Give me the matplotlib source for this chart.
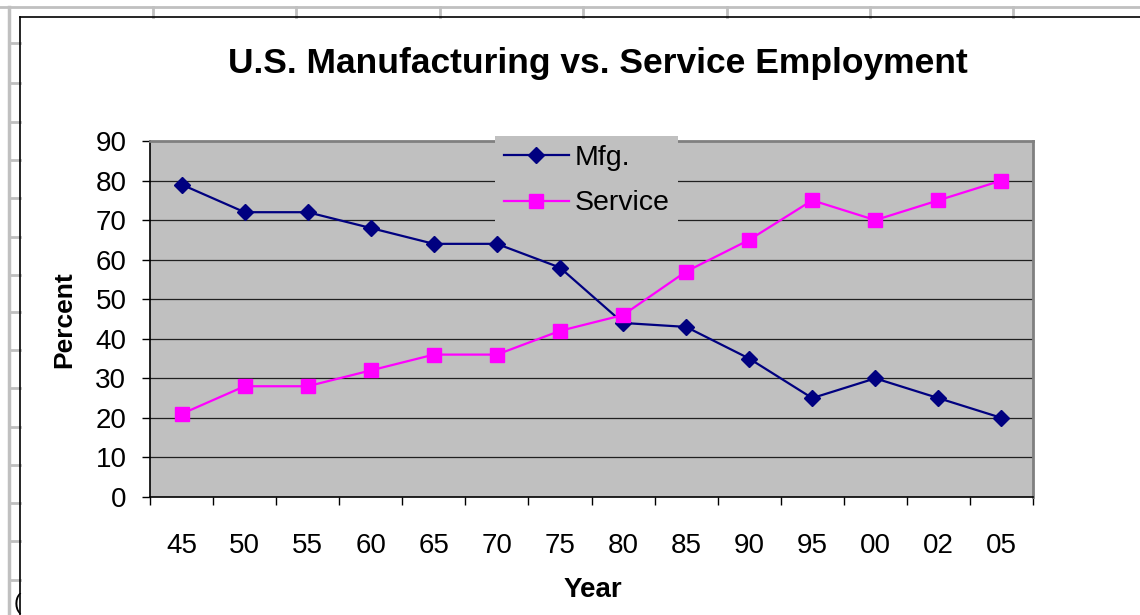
import numpy as np
import matplotlib
matplotlib.use("Agg")
import matplotlib.pyplot as plt
from matplotlib.lines import Line2D

plt.rcParams['font.family'] = ['Liberation Sans', 'DejaVu Sans']

# data
years = ['45', '50', '55', '60', '65', '70', '75', '80', '85', '90', '95', '00', '02', '05']
mfg = [79, 72, 72, 68, 64, 64, 58, 44, 43, 35, 25, 30, 25, 20]
service = [21, 28, 28, 32, 36, 36, 42, 46, 57, 65, 75, 70, 75, 80]
yticks = [0, 10, 20, 30, 40, 50, 60, 70, 80, 90]

W, H = 1140, 615
fig = plt.figure(figsize=(W / 100, H / 100), dpi=100)
fig.patch.set_facecolor('white')

def fx(x):
    return x / W

def fy(y):
    return 1 - y / H

# spreadsheet grid behind the chart
grid_c = '#C0C0C0'
fig.add_artist(Line2D([0, 1], [fy(7), fy(7)], transform=fig.transFigure, color=grid_c, lw=2))
fig.add_artist(Line2D([fx(9), fx(9)], [fy(7), 0], transform=fig.transFigure, color=grid_c, lw=2.5))
for x in [153, 296, 440, 583, 727, 870, 1013]:
    fig.add_artist(Line2D([fx(x), fx(x)], [fy(7), fy(17)], transform=fig.transFigure, color=grid_c, lw=2))
for y in [43, 83, 122, 160, 198, 237, 275, 312, 350, 388, 427, 465, 503, 541, 580]:
    fig.add_artist(Line2D([fx(9), fx(20)], [fy(y), fy(y)], transform=fig.transFigure, color=grid_c, lw=2))
fig.text(fx(14), fy(603), '(', fontsize=16, ha='left', va='center', color='black')

# chart area border
fig.add_artist(Line2D([fx(20), 1], [fy(17), fy(17)], transform=fig.transFigure, color='black', lw=1.2))
fig.add_artist(Line2D([fx(20), fx(20)], [fy(17), 0], transform=fig.transFigure, color='black', lw=1.2))

left, right, top, bottom = 150, 1033, 141, 497
ax = fig.add_axes([fx(left), fy(bottom), (right - left) / W, (bottom - top) / H])
ax.set_facecolor('#C0C0C0')

x = np.arange(len(years))
ax.plot(x, mfg, color='#000080', lw=1.6, marker='D', ms=8, label='Mfg.', zorder=3)
ax.plot(x, service, color='#FF00FF', lw=1.6, marker='s', ms=9.5, label='Service', zorder=3)

ax.set_xlim(-0.5, len(years) - 0.5)
ax.set_ylim(0, 90)
ax.set_yticks(yticks)
ax.tick_params(axis='y', direction='out', length=6, width=1, pad=11, labelsize=20, colors='black')
ax.set_xticks(x)
ax.set_xticklabels(years)
ax.set_xticks(np.arange(-0.5, len(years)), minor=True)
ax.tick_params(axis='x', which='major', length=0, pad=26, labelsize=20)
ax.tick_params(axis='x', which='minor', direction='out', length=6, width=1)

for v in yticks[1:-1]:
    ax.axhline(v, color='#202020', lw=0.9, zorder=1)

for s in ['top', 'right']:
    ax.spines[s].set_color('#808080')
    ax.spines[s].set_linewidth(2)
for s in ['left', 'bottom']:
    ax.spines[s].set_color('black')
    ax.spines[s].set_linewidth(1.2)

leg = ax.legend(loc='upper left', bbox_to_anchor=(fx(495), fy(136)), bbox_transform=fig.transFigure,
                frameon=True, facecolor='#C0C0C0', edgecolor='none', framealpha=1, fancybox=False,
                fontsize=20.5, borderaxespad=0, borderpad=0.3, handlelength=2.3, handletextpad=0.2,
                labelspacing=0.7)
leg.set_zorder(10)

fig.text(fx(598), fy(63), 'U.S. Manufacturing vs. Service Employment', fontsize=25.5,
         fontweight='bold', ha='center', va='center')
fig.text(fx(593), fy(590), 'Year', fontsize=20, fontweight='bold', ha='center', va='center')
fig.text(fx(64), fy(320), 'Percent', fontsize=19, fontweight='bold', ha='center', va='center', rotation=90)

fig.savefig('out.png', dpi=100)
